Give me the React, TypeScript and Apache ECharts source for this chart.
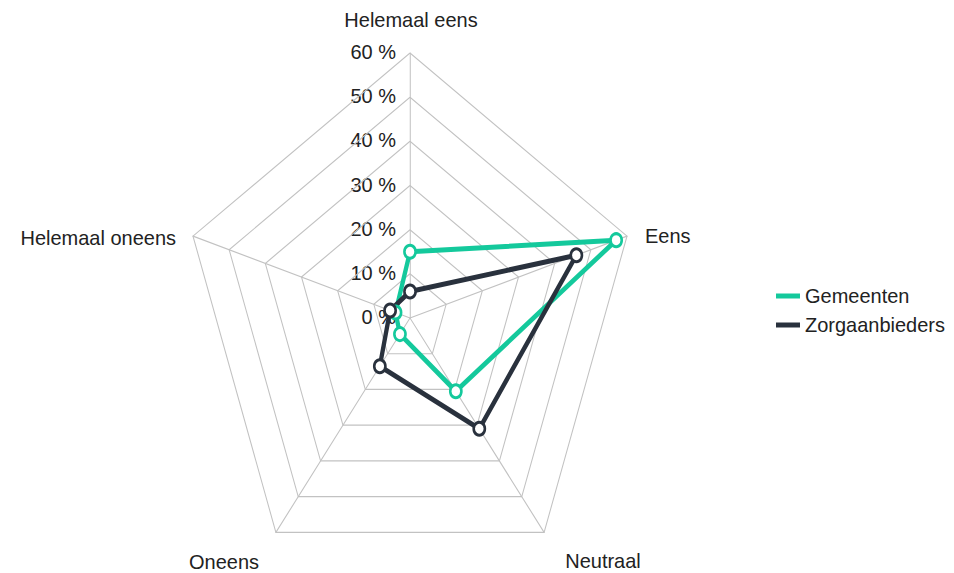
import React, { useEffect, useRef } from 'react';
import * as echarts from 'echarts';

// ---- data ----
const indicatorNames = ['Helemaal eens', 'Helemaal oneens', 'Oneens', 'Neutraal', 'Eens'];
const gemeenten = [15, 4, 4.5, 20.5, 57];
const zorgaanbieders = [6, 5.5, 13.5, 31, 46];
const tickLabels = ['0 %', '10 %', '20 %', '30 %', '40 %', '50 %', '60 %'];
const seriesNames = ['Gemeenten', 'Zorgaanbieders'];
const AXIS_MAX = 60;

// ---- layout / style ----
const S = 0.861; // horizontal squeeze of the original (non-square) radar
const W = 954;
const H = 573;
const CX = 410;
const CY = 318;
const R = 265;
const GREEN = '#14c99c';
const DARK = '#29313d';
const GRID = '#c2c2c2';
const TEXT = '#222222';
const FONT = '20px "Liberation Sans", Arial, sans-serif';

// visual positions of the indicator names (same order as indicatorNames)
const namePos: { x: number; y: number; align: string }[] = [
  { x: 411, y: 20, align: 'center' },
  { x: 176, y: 238, align: 'right' },
  { x: 224, y: 562, align: 'center' },
  { x: 603, y: 561, align: 'center' },
  { x: 645, y: 236, align: 'left' },
];

function txt(text: string, vx: number, y: number, align: string) {
  return {
    type: 'text',
    x: vx / S,
    y,
    scaleX: 1 / S,
    silent: true,
    style: {
      text,
      fill: TEXT,
      font: FONT,
      align,
      verticalAlign: 'middle',
      textAlign: align,
      textVerticalAlign: 'middle',
    },
  };
}

export default function App() {
  const ref = useRef<HTMLDivElement>(null);

  useEffect(() => {
    if (!ref.current) return;
    const chart = echarts.init(ref.current, null, { renderer: 'svg' });

    const graphics: any[] = [];
    indicatorNames.forEach((n, i) => {
      const p = namePos[i];
      graphics.push(txt(n, p.x, p.y, p.align));
    });
    tickLabels.forEach((t, i) => {
      const y = CY - (i / (tickLabels.length - 1)) * R;
      graphics.push(txt(t, 396, y - 1, 'right'));
    });
    const legendColors = [GREEN, DARK];
    const legendY = [296, 325];
    seriesNames.forEach((n, i) => {
      graphics.push({
        type: 'line',
        silent: true,
        shape: { x1: 776 / S, y1: legendY[i], x2: 800 / S, y2: legendY[i] },
        style: { stroke: legendColors[i], lineWidth: 5 },
      });
      graphics.push(txt(n, 805, legendY[i], 'left'));
    });

    chart.setOption({
      animation: false,
      backgroundColor: '#ffffff',
      radar: {
        center: [CX / S, CY],
        radius: R,
        startAngle: 90,
        splitNumber: 6,
        shape: 'polygon',
        indicator: indicatorNames.map((name) => ({ name, min: 0, max: AXIS_MAX })),
        axisName: { show: false },
        axisLine: { lineStyle: { color: GRID, width: 1.2 } },
        splitLine: { lineStyle: { color: GRID, width: 1.2 } },
        splitArea: { show: false },
        axisTick: { show: false },
        axisLabel: { show: false },
      },
      graphic: graphics,
      series: [
        {
          type: 'radar',
          symbol: 'circle',
          symbolSize: 13,
          data: [
            {
              name: seriesNames[0],
              value: gemeenten,
              lineStyle: { color: GREEN, width: 5 },
              itemStyle: { color: '#ffffff', borderColor: GREEN, borderWidth: 3 },
            },
            {
              name: seriesNames[1],
              value: zorgaanbieders,
              lineStyle: { color: DARK, width: 5 },
              itemStyle: { color: '#ffffff', borderColor: DARK, borderWidth: 3 },
            },
          ],
        },
      ],
    });

    return () => {
      chart.dispose();
    };
  }, []);

  return (
    <div
      style={{
        position: 'absolute',
        left: 0,
        top: 0,
        width: W,
        height: H,
        overflow: 'hidden',
        background: '#fff',
      }}
    >
      <div
        ref={ref}
        style={{
          width: Math.round(W / S),
          height: H,
          transform: `scaleX(${S})`,
          transformOrigin: '0 0',
        }}
      />
    </div>
  );
}
